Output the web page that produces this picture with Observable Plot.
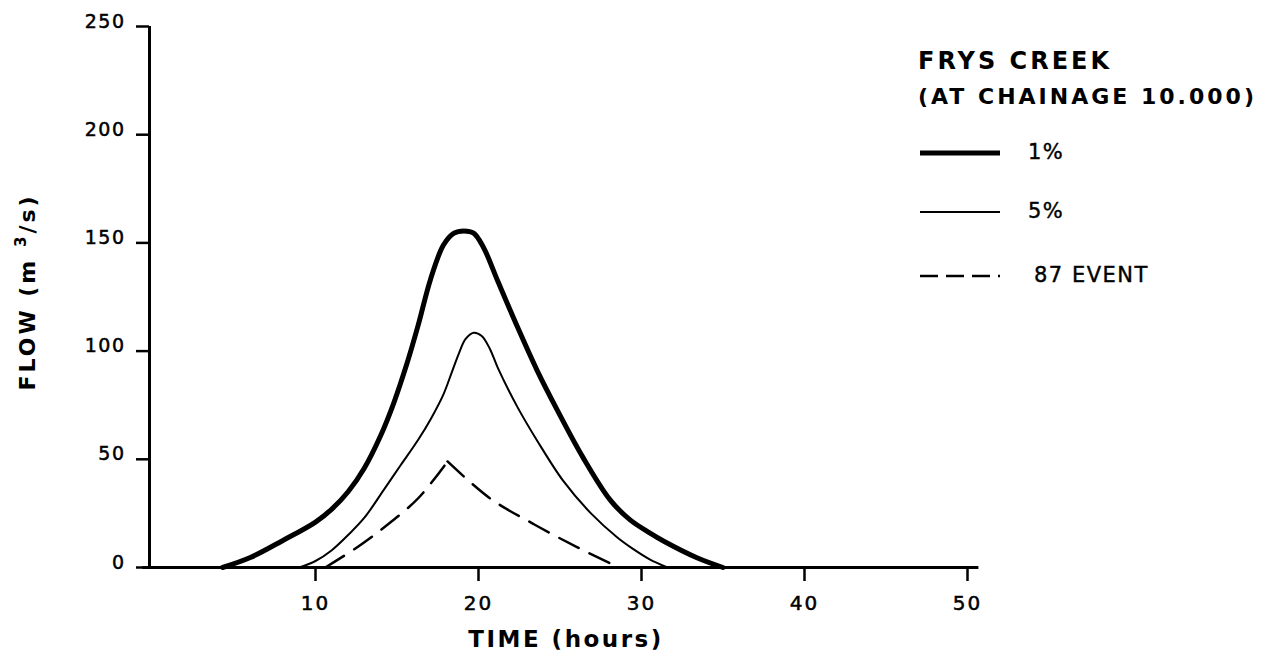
<!DOCTYPE html>
<html>
<head>
<meta charset="utf-8">
<script src="https://cdn.jsdelivr.net/npm/d3@7"></script>
<script src="https://cdn.jsdelivr.net/npm/@observablehq/plot@0.6"></script>
<style>
  html, body { margin: 0; padding: 0; background: #fff; }
  #wrap { position: relative; width: 1270px; height: 657px; overflow: hidden; }
  #wrap svg.overlay { position: absolute; left: 0; top: 0; pointer-events: none; }
  #wrap g[aria-label="x-axis tick label"] text { letter-spacing: 2px; stroke: #000; stroke-width: 0.5px; }
  #wrap g.ylab text { letter-spacing: 1.5px; stroke: #000; stroke-width: 0.5px; }
  #wrap svg.overlay text.plain { stroke: #000; stroke-width: 0.4px; }
</style>
</head>
<body>
<div id="wrap"></div>
<script>
// ---- data ----
const seriesNames = ["1%", "5%", "87 EVENT"];

const hours1 = [4.3, 6.0, 8.0, 10.0, 11.0, 12.0, 13.0, 14.0, 14.8, 15.6, 16.3, 17.05, 17.85, 18.5, 19.1, 19.7, 20.3, 21.2, 22.4, 23.6, 24.85, 26.4, 28.1, 29.3, 30.5, 31.4, 33.4, 35.0];
const flow1  = [0, 4.6, 12.5, 21.0, 27.0, 35.0, 46.0, 61.0, 76.0, 94.0, 112.0, 133.0, 149.0, 154.5, 155.5, 154.5, 148.0, 132.0, 111.0, 91.0, 72.5, 51.0, 31.0, 22.0, 16.0, 12.0, 4.5, 0];

const hours5 = [9.0, 10.0, 11.0, 12.0, 13.0, 14.2, 15.2, 16.3, 17.1, 17.85, 18.4, 18.8, 19.2, 19.7, 20.2, 20.7, 21.2, 22.4, 23.6, 25.2, 26.9, 28.5, 29.5, 30.5, 31.6];
const flow5  = [0, 3.0, 8.0, 15.0, 23.0, 36.0, 47.0, 59.0, 69.0, 80.0, 91.0, 99.0, 105.5, 108.5, 107.0, 101.0, 92.0, 74.0, 58.6, 40.0, 25.0, 14.0, 8.5, 3.8, 0];

const hours87 = [10.6, 12.45, 14.2, 16.3, 18.1, 20.7, 23.4, 26.1, 28.6];
const flow87  = [0, 8.8, 18.5, 32.0, 49.0, 32.0, 20.0, 9.2, 0];

const xTicks = [10, 20, 30, 40, 50];
const yTicks = [0, 50, 100, 150, 200, 250];
const xDomain = [0, 50];
const yDomain = [0, 250];
const xAxisExtent = [-0.6, 50.7];

const titleLines = ["FRYS CREEK", "(AT CHAINAGE 10.000)"];
const xTitle = "TIME (hours)";

// ---- build tables ----
const zipSeries = (name, hs, fs) => hs.map((h, i) => ({series: name, hours: h, flow: fs[i]}));
const d1 = zipSeries(seriesNames[0], hours1, flow1);
const d5 = zipSeries(seriesNames[1], hours5, flow5);
const d87 = zipSeries(seriesNames[2], hours87, flow87);
const peak87 = flow87.indexOf(d3.max(flow87));
const d87rise = d87.slice(0, peak87 + 1);
const d87fall = d87.slice(peak87);

const styles = {
  "1%": {strokeWidth: 5, dash: null, legendDash: null},
  "5%": {strokeWidth: 2, dash: null, legendDash: null},
  "87 EVENT": {strokeWidth: 2.5, dash: "22,12", legendDash: "18,8"}
};

const W = 1270, H = 657;
const chart = Plot.plot({
  width: W,
  height: H,
  marginLeft: 152,
  marginRight: 303,
  marginTop: 26,
  marginBottom: 90,
  style: {fontFamily: "DejaVu Sans", background: "#fff", color: "#000"},
  x: {domain: xDomain},
  y: {domain: yDomain},
  marks: [
    Plot.ruleY([0], {x1: xAxisExtent[0], x2: xAxisExtent[1], stroke: "#000", strokeWidth: 3}),
    Plot.ruleX([0], {y1: yDomain[0], y2: yDomain[1], dx: -3, stroke: "#000", strokeWidth: 3}),
    Plot.axisX({ticks: xTicks, tickSize: 14, tickPadding: 14, strokeWidth: 2.5, fontSize: 20, label: null, tickFormat: d => String(d)}),
    Plot.axisY({ticks: yTicks, tickSize: 13, dx: -3, strokeWidth: 2.5, label: null, tickFormat: () => ""}),
    Plot.text(yTicks, {y: d => d, frameAnchor: "left", dx: -27, dy: -5, textAnchor: "end", fontSize: 19, text: d => String(d), className: "ylab"}),
    Plot.line(d1, {x: "hours", y: "flow", stroke: "#000", strokeWidth: styles["1%"].strokeWidth, curve: "catmull-rom", strokeLinejoin: "round"}),
    Plot.line(d5, {x: "hours", y: "flow", stroke: "#000", strokeWidth: styles["5%"].strokeWidth, curve: "catmull-rom"}),
    Plot.line(d87rise, {x: "hours", y: "flow", stroke: "#000", strokeWidth: styles["87 EVENT"].strokeWidth, strokeDasharray: styles["87 EVENT"].dash, curve: "catmull-rom"}),
    Plot.line(d87fall, {x: "hours", y: "flow", stroke: "#000", strokeWidth: styles["87 EVENT"].strokeWidth, strokeDasharray: styles["87 EVENT"].dash, curve: "catmull-rom"})
  ]
});

const wrap = document.getElementById("wrap");
wrap.appendChild(chart);

// ---- overlay: axis titles and legend ----
const ov = d3.select(wrap).append("svg")
  .attr("class", "overlay")
  .attr("width", W).attr("height", H)
  .style("font-family", "DejaVu Sans");

// x-axis title
ov.append("text")
  .attr("x", 566).attr("y", 647)
  .attr("text-anchor", "middle")
  .style("font-size", "23px").style("font-weight", "bold").style("letter-spacing", "2.5px")
  .text(xTitle);

// y-axis title (rotated) with superscript
const yt = ov.append("text")
  .attr("transform", "translate(35,292) rotate(-90)")
  .attr("text-anchor", "middle")
  .style("font-size", "22px").style("font-weight", "bold").style("letter-spacing", "3px");
yt.append("tspan").text("FLOW (m ");
yt.append("tspan").attr("dy", -9).style("font-size", "15px").text("3");
yt.append("tspan").attr("dy", 9).text("/s)");

// legend title
const titleSizes = [24, 22];
ov.selectAll("text.ltitle").data(titleLines).join("text")
  .attr("class", "ltitle")
  .attr("x", 918).attr("y", (d, i) => 69 + i * 35)
  .style("font-size", (d, i) => titleSizes[i] + "px").style("font-weight", "bold").style("letter-spacing", "3px")
  .text(d => d);

// legend entries
const legY = [153, 212, 276];
const legTextX = [1028, 1028, 1034];
const leg = ov.selectAll("g.leg").data(seriesNames).join("g").attr("class", "leg");
leg.append("line")
  .attr("x1", 920).attr("x2", 1000)
  .attr("y1", (d, i) => legY[i]).attr("y2", (d, i) => legY[i])
  .attr("stroke", "#000")
  .attr("stroke-width", d => styles[d].strokeWidth)
  .attr("stroke-dasharray", d => styles[d].legendDash);
leg.append("text")
  .attr("class", "plain")
  .attr("x", (d, i) => legTextX[i]).attr("y", (d, i) => legY[i] + 6)
  .style("font-size", "21px").style("letter-spacing", "1.5px")
  .text(d => d);
</script>
</body>
</html>
